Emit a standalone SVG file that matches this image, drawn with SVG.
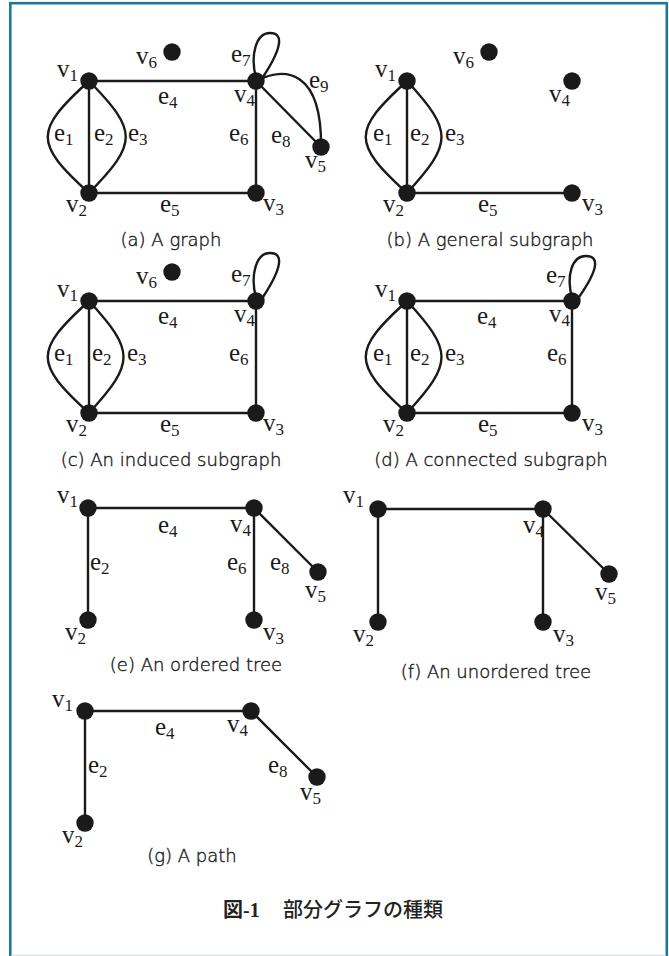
<svg xmlns="http://www.w3.org/2000/svg" width="669" height="956" viewBox="0 0 669 956">
<style>
.e{fill:none;stroke:#1a1a1a;stroke-width:2.4}
.n{fill:#1a1a1a}
.l{font-family:"Liberation Serif","Times New Roman",serif;font-size:25px;fill:#1a1a1a}
.s{font-size:17px}
.c{font-family:"DejaVu Sans","Open Sans",sans-serif;font-weight:300;font-size:18px;fill:#1a1a1a;stroke:#1a1a1a;stroke-width:0.4;text-anchor:middle}
.t{font-family:"Noto Sans CJK JP",sans-serif;font-size:20px;fill:#222}
</style>
<rect x="10.3" y="3.2" width="656.5" height="970" fill="#fff" stroke="#1b7a99" stroke-width="2.6"/>
<line x1="11.6" y1="955.3" x2="665.5" y2="955.3" stroke="#dde5ea" stroke-width="1.5"/>

<g id="connectors">
<!-- (a) -->
<path class="e" d="M89,81 C34,131 34,143 89,193"/>
<path class="e" d="M89,81 L89,193"/>
<path class="e" d="M89,81 C138,131 138,143 89,193"/>
<path class="e" d="M89,81 L256,81"/>
<path class="e" d="M89,193 L256,193"/>
<path class="e" d="M256,81 L256,193"/>
<path class="e" d="M256,78 C250,55 256,33 270,33 C284,33 282,48 263,77"/>
<path class="e" d="M256,81 L321,147"/>
<path class="e" d="M256,81 C285,66 322,70 321,147"/>
<!-- (b) -->
<path class="e" d="M407,81 C352,131 352,143 407,193"/>
<path class="e" d="M407,81 L407,193"/>
<path class="e" d="M407,81 C453,131 453,143 407,193"/>
<path class="e" d="M407,193 L572,193"/>
<!-- (c) -->
<path class="e" d="M89,301 C34,351 34,363 89,413"/>
<path class="e" d="M89,301 L89,413"/>
<path class="e" d="M89,301 C135,351 135,363 89,413"/>
<path class="e" d="M89,301 L256,301"/>
<path class="e" d="M89,413 L256,413"/>
<path class="e" d="M256,301 L256,413"/>
<path class="e" d="M256,298 C250,275 256,253 270,253 C284,253 282,268 263,297"/>
<!-- (d) -->
<path class="e" d="M407,301 C352,351 352,363 407,413"/>
<path class="e" d="M407,301 L407,413"/>
<path class="e" d="M407,301 C453,351 453,363 407,413"/>
<path class="e" d="M407,301 L572,301"/>
<path class="e" d="M407,413 L572,413"/>
<path class="e" d="M572,301 L572,413"/>
<path class="e" d="M572,298 C566,275 572,256 586,256 C600,256 598,270 579,297"/>
<!-- (e) -->
<path class="e" d="M88,508 L254,508"/>
<path class="e" d="M88,508 L88,620"/>
<path class="e" d="M254,508 L254,620"/>
<path class="e" d="M254,508 L318,572"/>
<!-- (f) -->
<path class="e" d="M378,509 L543,509"/>
<path class="e" d="M378,509 L378,622"/>
<path class="e" d="M543,509 L543,622"/>
<path class="e" d="M543,509 L609,574"/>
<!-- (g) -->
<path class="e" d="M85,711 L251,711"/>
<path class="e" d="M85,711 L85,823"/>
<path class="e" d="M251,711 L317,777"/>
</g>

<g id="graph-a">
<circle class="n" cx="89" cy="81" r="8.7"/><circle class="n" cx="89" cy="193" r="8.7"/>
<circle class="n" cx="256" cy="193" r="8.7"/><circle class="n" cx="256" cy="81" r="8.7"/>
<circle class="n" cx="321" cy="147" r="8.7"/><circle class="n" cx="172" cy="52" r="8.7"/>
<text class="l" x="57" y="77">v<tspan class="s" dy="4">1</tspan></text>
<text class="l" x="136" y="64">v<tspan class="s" dy="4">6</tspan></text>
<text class="l" x="231" y="62">e<tspan class="s" dy="4">7</tspan></text>
<text class="l" x="234" y="102">v<tspan class="s" dy="4">4</tspan></text>
<text class="l" x="309" y="88">e<tspan class="s" dy="4">9</tspan></text>
<text class="l" x="158" y="104">e<tspan class="s" dy="4">4</tspan></text>
<text class="l" x="54" y="141">e<tspan class="s" dy="4">1</tspan></text>
<text class="l" x="94" y="141">e<tspan class="s" dy="4">2</tspan></text>
<text class="l" x="128" y="141">e<tspan class="s" dy="4">3</tspan></text>
<text class="l" x="229" y="141">e<tspan class="s" dy="4">6</tspan></text>
<text class="l" x="271" y="143">e<tspan class="s" dy="4">8</tspan></text>
<text class="l" x="305" y="168">v<tspan class="s" dy="4">5</tspan></text>
<text class="l" x="66" y="212">v<tspan class="s" dy="4">2</tspan></text>
<text class="l" x="160" y="212">e<tspan class="s" dy="4">5</tspan></text>
<text class="l" x="263" y="211">v<tspan class="s" dy="4">3</tspan></text>
<text class="c" x="171" y="246">(a) A graph</text>
</g>

<g id="graph-b">
<circle class="n" cx="407" cy="81" r="8.7"/><circle class="n" cx="407" cy="193" r="8.7"/>
<circle class="n" cx="572" cy="193" r="8.7"/><circle class="n" cx="572" cy="81" r="8.7"/>
<circle class="n" cx="489" cy="52" r="8.7"/>
<text class="l" x="375" y="77">v<tspan class="s" dy="4">1</tspan></text>
<text class="l" x="453" y="64">v<tspan class="s" dy="4">6</tspan></text>
<text class="l" x="549" y="102">v<tspan class="s" dy="4">4</tspan></text>
<text class="l" x="373" y="141">e<tspan class="s" dy="4">1</tspan></text>
<text class="l" x="410" y="141">e<tspan class="s" dy="4">2</tspan></text>
<text class="l" x="445" y="141">e<tspan class="s" dy="4">3</tspan></text>
<text class="l" x="383" y="212">v<tspan class="s" dy="4">2</tspan></text>
<text class="l" x="478" y="212">e<tspan class="s" dy="4">5</tspan></text>
<text class="l" x="582" y="211">v<tspan class="s" dy="4">3</tspan></text>
<text class="c" x="490" y="246">(b) A general subgraph</text>
</g>

<g id="graph-c">
<circle class="n" cx="89" cy="301" r="8.7"/><circle class="n" cx="89" cy="413" r="8.7"/>
<circle class="n" cx="256" cy="413" r="8.7"/><circle class="n" cx="256" cy="301" r="8.7"/>
<circle class="n" cx="172" cy="272" r="8.7"/>
<text class="l" x="57" y="297">v<tspan class="s" dy="4">1</tspan></text>
<text class="l" x="136" y="284">v<tspan class="s" dy="4">6</tspan></text>
<text class="l" x="231" y="282">e<tspan class="s" dy="4">7</tspan></text>
<text class="l" x="234" y="322">v<tspan class="s" dy="4">4</tspan></text>
<text class="l" x="158" y="324">e<tspan class="s" dy="4">4</tspan></text>
<text class="l" x="54" y="361">e<tspan class="s" dy="4">1</tspan></text>
<text class="l" x="92" y="361">e<tspan class="s" dy="4">2</tspan></text>
<text class="l" x="127" y="361">e<tspan class="s" dy="4">3</tspan></text>
<text class="l" x="229" y="361">e<tspan class="s" dy="4">6</tspan></text>
<text class="l" x="66" y="432">v<tspan class="s" dy="4">2</tspan></text>
<text class="l" x="160" y="432">e<tspan class="s" dy="4">5</tspan></text>
<text class="l" x="263" y="431">v<tspan class="s" dy="4">3</tspan></text>
<text class="c" x="171" y="466">(c) An induced subgraph</text>
</g>

<g id="graph-d">
<circle class="n" cx="407" cy="301" r="8.7"/><circle class="n" cx="407" cy="413" r="8.7"/>
<circle class="n" cx="572" cy="413" r="8.7"/><circle class="n" cx="572" cy="301" r="8.7"/>
<text class="l" x="375" y="297">v<tspan class="s" dy="4">1</tspan></text>
<text class="l" x="546" y="283">e<tspan class="s" dy="4">7</tspan></text>
<text class="l" x="549" y="322">v<tspan class="s" dy="4">4</tspan></text>
<text class="l" x="477" y="324">e<tspan class="s" dy="4">4</tspan></text>
<text class="l" x="373" y="361">e<tspan class="s" dy="4">1</tspan></text>
<text class="l" x="410" y="361">e<tspan class="s" dy="4">2</tspan></text>
<text class="l" x="445" y="361">e<tspan class="s" dy="4">3</tspan></text>
<text class="l" x="547" y="361">e<tspan class="s" dy="4">6</tspan></text>
<text class="l" x="383" y="432">v<tspan class="s" dy="4">2</tspan></text>
<text class="l" x="478" y="432">e<tspan class="s" dy="4">5</tspan></text>
<text class="l" x="582" y="431">v<tspan class="s" dy="4">3</tspan></text>
<text class="c" x="491" y="466">(d) A connected subgraph</text>
</g>

<g id="graph-e">
<circle class="n" cx="88" cy="508" r="8.7"/><circle class="n" cx="254" cy="508" r="8.7"/>
<circle class="n" cx="88" cy="620" r="8.7"/><circle class="n" cx="254" cy="620" r="8.7"/>
<circle class="n" cx="318" cy="572" r="8.7"/>
<text class="l" x="57" y="503">v<tspan class="s" dy="4">1</tspan></text>
<text class="l" x="158" y="533">e<tspan class="s" dy="4">4</tspan></text>
<text class="l" x="230" y="532">v<tspan class="s" dy="4">4</tspan></text>
<text class="l" x="90" y="570">e<tspan class="s" dy="4">2</tspan></text>
<text class="l" x="227" y="570">e<tspan class="s" dy="4">6</tspan></text>
<text class="l" x="270" y="570">e<tspan class="s" dy="4">8</tspan></text>
<text class="l" x="305" y="598">v<tspan class="s" dy="4">5</tspan></text>
<text class="l" x="65" y="640">v<tspan class="s" dy="4">2</tspan></text>
<text class="l" x="263" y="640">v<tspan class="s" dy="4">3</tspan></text>
<text class="c" x="196" y="671">(e) An ordered tree</text>
</g>

<g id="graph-f">
<circle class="n" cx="378" cy="509" r="8.7"/><circle class="n" cx="543" cy="509" r="8.7"/>
<circle class="n" cx="378" cy="622" r="8.7"/><circle class="n" cx="543" cy="622" r="8.7"/>
<circle class="n" cx="609" cy="574" r="8.7"/>
<text class="l" x="343" y="503">v<tspan class="s" dy="4">1</tspan></text>
<text class="l" x="523" y="533">v<tspan class="s" dy="4">4</tspan></text>
<text class="l" x="595" y="600">v<tspan class="s" dy="4">5</tspan></text>
<text class="l" x="353" y="642">v<tspan class="s" dy="4">2</tspan></text>
<text class="l" x="553" y="642">v<tspan class="s" dy="4">3</tspan></text>
<text class="c" x="496" y="678">(f) An unordered tree</text>
</g>

<g id="graph-g">
<circle class="n" cx="85" cy="711" r="8.7"/><circle class="n" cx="251" cy="711" r="8.7"/>
<circle class="n" cx="85" cy="823" r="8.7"/><circle class="n" cx="317" cy="777" r="8.7"/>
<text class="l" x="52" y="707">v<tspan class="s" dy="4">1</tspan></text>
<text class="l" x="155" y="735">e<tspan class="s" dy="4">4</tspan></text>
<text class="l" x="227" y="732">v<tspan class="s" dy="4">4</tspan></text>
<text class="l" x="88" y="773">e<tspan class="s" dy="4">2</tspan></text>
<text class="l" x="268" y="773">e<tspan class="s" dy="4">8</tspan></text>
<text class="l" x="300" y="800">v<tspan class="s" dy="4">5</tspan></text>
<text class="l" x="62" y="843">v<tspan class="s" dy="4">2</tspan></text>
<text class="c" x="192" y="862">(g) A path</text>
</g>

<g id="title">
<text class="t" x="223" y="917"><tspan font-weight="700">図</tspan><tspan font-family="'Liberation Serif',serif" font-weight="700">-1</tspan><tspan x="283" font-weight="500">部分グラフの種類</tspan></text>
</g>
</svg>
